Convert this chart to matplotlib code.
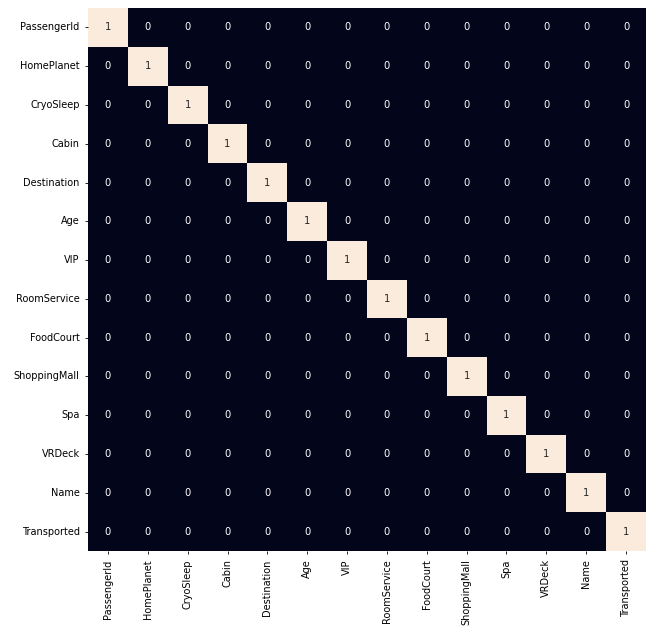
import numpy as np
import matplotlib
matplotlib.use("Agg")
import matplotlib.pyplot as plt
import seaborn as sns

# column names of the dataset
features = ["PassengerId", "HomePlanet", "CryoSleep", "Cabin", "Destination",
            "Age", "VIP", "RoomService", "FoodCourt", "ShoppingMall", "Spa",
            "VRDeck", "Name", "Transported"]

# correlation values (diagonal = 1, rest = 0)
corr_values = [
    [1, 0, 0, 0, 0, 0, 0, 0, 0, 0, 0, 0, 0, 0],
    [0, 1, 0, 0, 0, 0, 0, 0, 0, 0, 0, 0, 0, 0],
    [0, 0, 1, 0, 0, 0, 0, 0, 0, 0, 0, 0, 0, 0],
    [0, 0, 0, 1, 0, 0, 0, 0, 0, 0, 0, 0, 0, 0],
    [0, 0, 0, 0, 1, 0, 0, 0, 0, 0, 0, 0, 0, 0],
    [0, 0, 0, 0, 0, 1, 0, 0, 0, 0, 0, 0, 0, 0],
    [0, 0, 0, 0, 0, 0, 1, 0, 0, 0, 0, 0, 0, 0],
    [0, 0, 0, 0, 0, 0, 0, 1, 0, 0, 0, 0, 0, 0],
    [0, 0, 0, 0, 0, 0, 0, 0, 1, 0, 0, 0, 0, 0],
    [0, 0, 0, 0, 0, 0, 0, 0, 0, 1, 0, 0, 0, 0],
    [0, 0, 0, 0, 0, 0, 0, 0, 0, 0, 1, 0, 0, 0],
    [0, 0, 0, 0, 0, 0, 0, 0, 0, 0, 0, 1, 0, 0],
    [0, 0, 0, 0, 0, 0, 0, 0, 0, 0, 0, 0, 1, 0],
    [0, 0, 0, 0, 0, 0, 0, 0, 0, 0, 0, 0, 0, 1],
]

fig = plt.figure(figsize=(6.56, 6.35), dpi=100)
ax = fig.add_axes([88 / 656, 84 / 635, 558 / 656, 543 / 635])

sns.heatmap(np.array(corr_values), annot=True, cbar=False, ax=ax,
            xticklabels=features, yticklabels=features,
            annot_kws={"fontsize": 7.2})

ax.tick_params(labelsize=7.0, length=2.5, width=0.6)
plt.setp(ax.get_xticklabels(), rotation=90)
plt.setp(ax.get_yticklabels(), rotation=0)

fig.savefig("out.png", dpi=100)
